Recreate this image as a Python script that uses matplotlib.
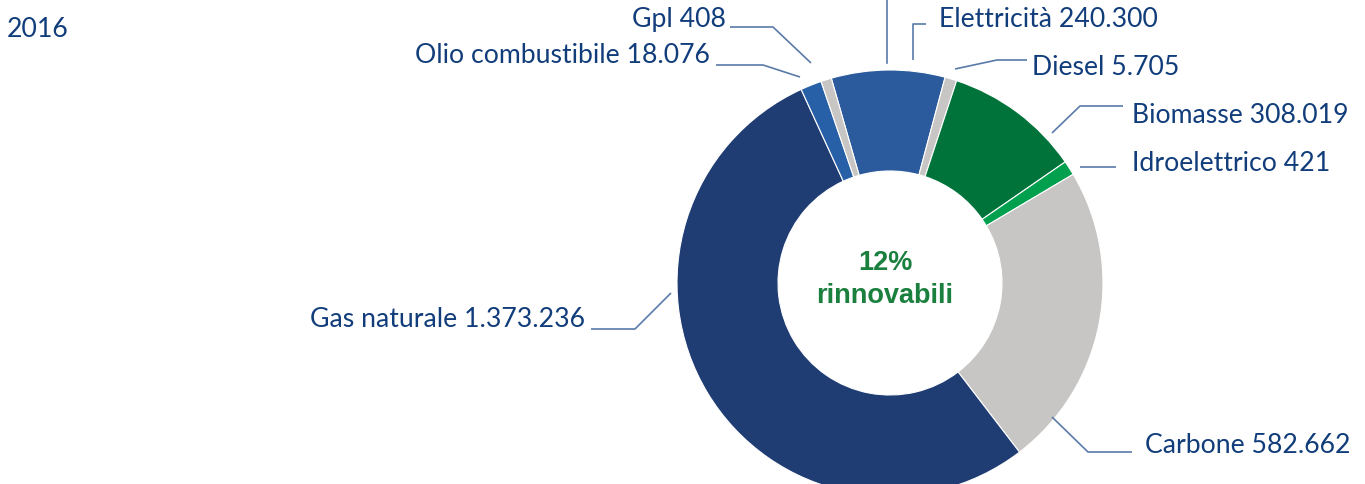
import matplotlib
matplotlib.use("Agg")
import matplotlib.pyplot as plt

# data (clockwise from the top of the ring)
sources = ['Elettricità', 'Diesel', 'Biomasse', 'Idroelettrico',
           'Carbone', 'Gas naturale', 'Olio combustibile', 'Gpl']
values = [240300, 5705, 308019, 421, 582662, 1373236, 18076, 408]
# share of the ring as drawn in the picture (small items are enlarged there)
drawn_share = [8.6, 0.9, 10.3, 1.1, 23.1, 53.5, 1.6, 0.8]
renewables = ['Biomasse', 'Idroelettrico']
year = '2016'

colors = ['#2b5b9c', '#c8c6c4', '#00733b', '#00a04f',
          '#c8c6c4', '#1f3d73', '#2860a8', '#c8c6c4']
text_color = '#123d7b'
line_color = '#5a7aa8'
label_font = 'Lato'

fig = plt.figure(figsize=(13.65, 4.84), dpi=100)
ax = fig.add_axes([0, 0, 1, 1])

# y axis runs downward so positions read like pixels
ax.pie(drawn_share, colors=colors, center=(890, 283), radius=213,
       startangle=254, counterclock=True, frame=True,
       wedgeprops=dict(width=101, edgecolor='white', linewidth=0.8))
ax.set_xlim(0, 1365)
ax.set_ylim(484, 0)
ax.set_aspect('equal')
ax.axis('off')


def fmt(v):
    return f"{v:,}".replace(',', '.')


# label: (text x, baseline y, alignment, leader polyline)
label_pos = {
    'Elettricità': (939, 27, 'left', [(913, 60), (913, 24), (926, 24)]),
    'Diesel': (1032, 75, 'left', [(955, 69), (997, 60), (1027, 60)]),
    'Biomasse': (1132, 123, 'left', [(1052, 133), (1080, 106), (1123, 106)]),
    'Idroelettrico': (1132, 171, 'left', [(1080, 167), (1116, 167)]),
    'Carbone': (1145, 453, 'left', [(1052, 417), (1088, 452), (1132, 452)]),
    'Gas naturale': (585, 327, 'right', [(671, 293), (635, 329), (591, 329)]),
    'Olio combustibile': (710, 63, 'right', [(800, 77), (763, 65), (716, 65)]),
    'Gpl': (726, 27, 'right', [(811, 63), (773, 27), (730, 27)]),
}

for name, v in zip(sources, values):
    x, y, ha, pts = label_pos[name]
    ax.text(x, y, f"{name} {fmt(v)}", ha=ha, va='baseline',
            fontsize=19.2, color=text_color, family=label_font)
    ax.plot([p[0] for p in pts], [p[1] for p in pts],
            color=line_color, lw=1.2, solid_capstyle='butt')

# leader of a label sitting above the cropped picture
ax.plot([887, 887], [-5, 63], color=line_color, lw=1.2)

ax.text(7, 37, year, ha='left', va='baseline', fontsize=19.2,
        color=text_color, family=label_font)

ren = sum(v for s, v in zip(sources, values) if s in renewables)
pct = round(100 * ren / sum(values))
ax.text(885, 270, f"{pct}%", ha='center', va='baseline', fontsize=19.5,
        fontweight='bold', color='#1b7f3e', family='Liberation Sans')
ax.text(885, 303, "rinnovabili", ha='center', va='baseline', fontsize=19.5,
        fontweight='bold', color='#1b7f3e', family='Liberation Sans')

fig.savefig('out.png', dpi=100)
